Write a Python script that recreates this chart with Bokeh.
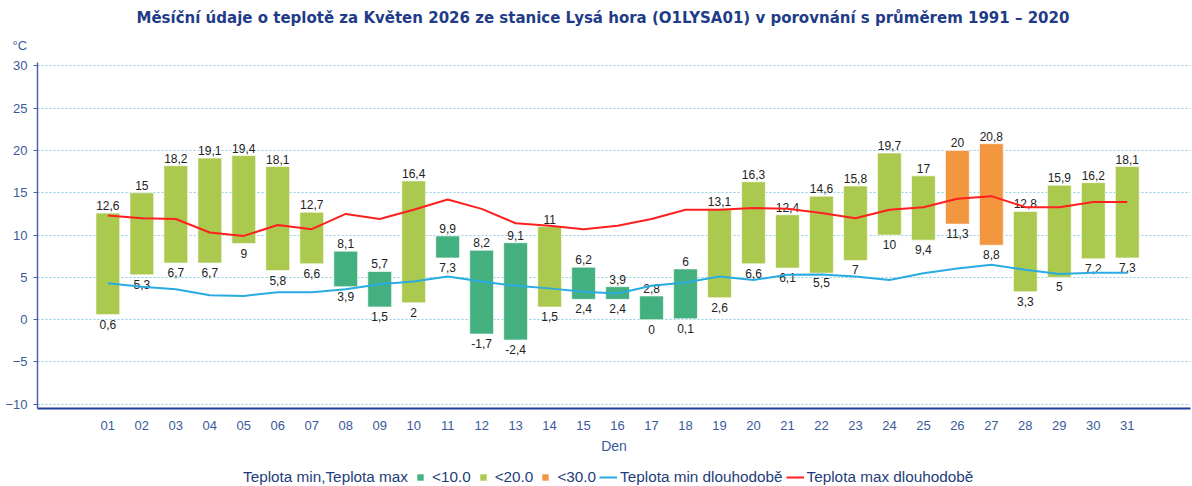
from bokeh.plotting import figure
from bokeh.models import FixedTicker, Legend, LegendItem, Range1d, Title
from bokeh.layouts import column
from bokeh.embed import file_html
from bokeh.resources import INLINE
from bokeh.core.properties import value

# ---------------- data ----------------
days = ["01", "02", "03", "04", "05", "06", "07", "08", "09", "10",
        "11", "12", "13", "14", "15", "16", "17", "18", "19", "20",
        "21", "22", "23", "24", "25", "26", "27", "28", "29", "30", "31"]

t_min = [0.6, 5.3, 6.7, 6.7, 9, 5.8, 6.6, 3.9, 1.5, 2,
         7.3, -1.7, -2.4, 1.5, 2.4, 2.4, 0, 0.1, 2.6, 6.6,
         6.1, 5.5, 7, 10, 9.4, 11.3, 8.8, 3.3, 5, 7.2, 7.3]
t_max = [12.6, 15, 18.2, 19.1, 19.4, 18.1, 12.7, 8.1, 5.7, 16.4,
         9.9, 8.2, 9.1, 11, 6.2, 3.9, 2.8, 6, 13.1, 16.3,
         12.4, 14.6, 15.8, 19.7, 17, 20, 20.8, 12.8, 15.9, 16.2, 18.1]

lt_min = [4.3, 3.9, 3.6, 2.9, 2.8, 3.25, 3.25, 3.6, 4.2, 4.5,
          5.1, 4.5, 4.0, 3.7, 3.3, 3.1, 4.0, 4.4, 5.1, 4.7,
          5.3, 5.35, 5.1, 4.7, 5.5, 6.05, 6.5, 5.9, 5.4, 5.55, 5.55]
lt_max = [12.3, 12.0, 11.9, 10.3, 9.9, 11.2, 10.7, 12.5, 11.9, 13.0,
          14.2, 13.1, 11.4, 11.1, 10.7, 11.1, 11.9, 13.0, 13.0, 13.2,
          13.1, 12.6, 12.0, 13.0, 13.3, 14.3, 14.6, 13.3, 13.3, 13.9, 13.9]

y_ticks = [-10, -5, 0, 5, 10, 15, 20, 25, 30]

classes = ["<10.0", "<20.0", "<30.0"]
class_limits = [10, 20, 30]

title_text = ("Měsíční údaje o teplotě za Květen 2026 ze stanice Lysá hora "
              "(O1LYSA01) v porovnání s průměrem 1991 – 2020")
unit_text = "°C"
x_label = "Den"
legend_title = "Teplota min,Teplota max"
line_names = ["Teplota min dlouhodobě", "Teplota max dlouhodobě"]

# ---------------- styles ----------------
class_colors = ["#45b07f", "#abc94f", "#f29640"]
line_colors = ["#29abe2", "#ff1f1f"]
FONT = "Liberation Sans"
AXIS_TXT = "#3a5a9c"
LEG_TXT = "#1f3d7a"

x = list(range(1, len(days) + 1))


def fmt(v):
    return f"{v:g}".replace(".", ",")


def cls(v):
    for i, lim in enumerate(class_limits):
        if v < lim:
            return i
    return len(class_limits) - 1


p = figure(width=1192, height=462, output_backend="svg", toolbar_location=None,
           title=title_text,
           x_range=Range1d(-1.07, 32.86), y_range=Range1d(-10.5, 30.4),
           min_border_left=37, min_border_right=2, min_border_top=62,
           min_border_bottom=54)
p.outline_line_color = None
p.background_fill_color = "white"
p.border_fill_color = "white"

# main title (outer) and unit label (nearest the plot)
p.title.align = "left"
p.title.offset = 99
p.title.standoff = 0
p.title.text_font = "DejaVu Sans"
p.title.text_font_size = "15px"
p.title.text_font_style = "bold"
p.title.text_color = "#1f3c88"
p.add_layout(Title(text=unit_text, align="left", offset=-25, standoff=18.5,
                   text_font=FONT, text_font_size="13px",
                   text_font_style="normal", text_color=AXIS_TXT), "above")

# axes
p.xaxis.ticker = FixedTicker(ticks=x)
p.xaxis.major_label_overrides = {i: d for i, d in zip(x, days)}
p.xaxis.major_tick_line_color = None
p.xaxis.minor_tick_line_color = None
p.xaxis.axis_line_color = "#1f3f99"
p.xaxis.axis_line_width = 2
p.xaxis.major_label_standoff = 6
p.xaxis.major_label_text_color = AXIS_TXT
p.xaxis.major_label_text_font = FONT
p.xaxis.major_label_text_font_size = "13px"
p.xaxis.axis_label = x_label
p.xaxis.axis_label_standoff = 5
p.xaxis.axis_label_text_font = FONT
p.xaxis.axis_label_text_font_size = "14px"
p.xaxis.axis_label_text_font_style = "normal"
p.xaxis.axis_label_text_color = AXIS_TXT

p.yaxis.ticker = FixedTicker(ticks=y_ticks)
p.yaxis.major_tick_out = 4
p.yaxis.major_tick_in = 0
p.yaxis.major_tick_line_color = "#4a66a8"
p.yaxis.minor_tick_line_color = None
p.yaxis.axis_line_color = "#4a66a8"
p.yaxis.axis_line_width = 1.5
p.yaxis.major_label_standoff = 6
p.yaxis.major_label_text_color = AXIS_TXT
p.yaxis.major_label_text_font = FONT
p.yaxis.major_label_text_font_size = "13px"

p.xgrid.grid_line_color = None
p.ygrid.grid_line_color = "#8ccfe3"
p.ygrid.grid_line_dash = "2 2"
p.ygrid.grid_line_width = 1

# bars per class
for ci, name in enumerate(classes):
    idx = [i for i, v in enumerate(t_max) if cls(v) == ci]
    p.vbar(x=[x[i] for i in idx], bottom=[t_min[i] for i in idx],
           top=[t_max[i] for i in idx], width=0.7, fill_color=class_colors[ci],
           line_color="white", line_alpha=0.6, line_width=1)

# value labels
p.text(x=x, y=t_max, text=[fmt(v) for v in t_max], text_align="center",
       text_baseline="bottom", y_offset=-3, text_font=value(FONT),
       text_font_size="12px", text_color="#222222")
p.text(x=x, y=t_min, text=[fmt(v) for v in t_min], text_align="center",
       text_baseline="top", y_offset=5, text_font=value(FONT),
       text_font_size="12px", text_color="#222222")

# long-term lines
p.line(x, lt_min, line_color=line_colors[0], line_width=2)
p.line(x, lt_max, line_color=line_colors[1], line_width=2)

# ---------------- legend strip (separate small figure) ----------------
lf = figure(width=1192, height=24, output_backend="svg", toolbar_location=None,
            x_axis_type=None, y_axis_type=None,
            x_range=Range1d(100, 101), y_range=Range1d(100, 101),
            min_border=0, min_border_left=0, min_border_right=0,
            min_border_top=0, min_border_bottom=0)
lf.outline_line_color = None
lf.grid.visible = False

blank = lf.scatter(x=x, y=t_max, marker="square", size=0, fill_alpha=0,
                   line_alpha=0)
sq = []
for ci, name in enumerate(classes):
    idx = [i for i, v in enumerate(t_max) if cls(v) == ci]
    sq.append(lf.scatter(x=[x[i] for i in idx], y=[t_max[i] for i in idx],
                         marker="square", size=0, fill_color=class_colors[ci],
                         line_color=None))
ln = [lf.line(x, lt_min, line_color=line_colors[0], line_width=2),
      lf.line(x, lt_max, line_color=line_colors[1], line_width=2)]

items = [LegendItem(label=legend_title, renderers=[blank])]
items += [LegendItem(label=n, renderers=[r]) for n, r in zip(classes, sq)]
items += [LegendItem(label=n, renderers=[r]) for n, r in zip(line_names, ln)]
leg = Legend(items=items, location=(185, 0), orientation="horizontal",
             glyph_width=18, glyph_height=16, label_standoff=3, spacing=3,
             padding=0, margin=0, border_line_color=None,
             background_fill_alpha=0, label_text_font=FONT,
             label_text_font_size="15.3px", label_text_color=LEG_TXT)
lf.add_layout(leg)

open("out.html", "w").write(file_html(column(p, lf, spacing=0), INLINE))
